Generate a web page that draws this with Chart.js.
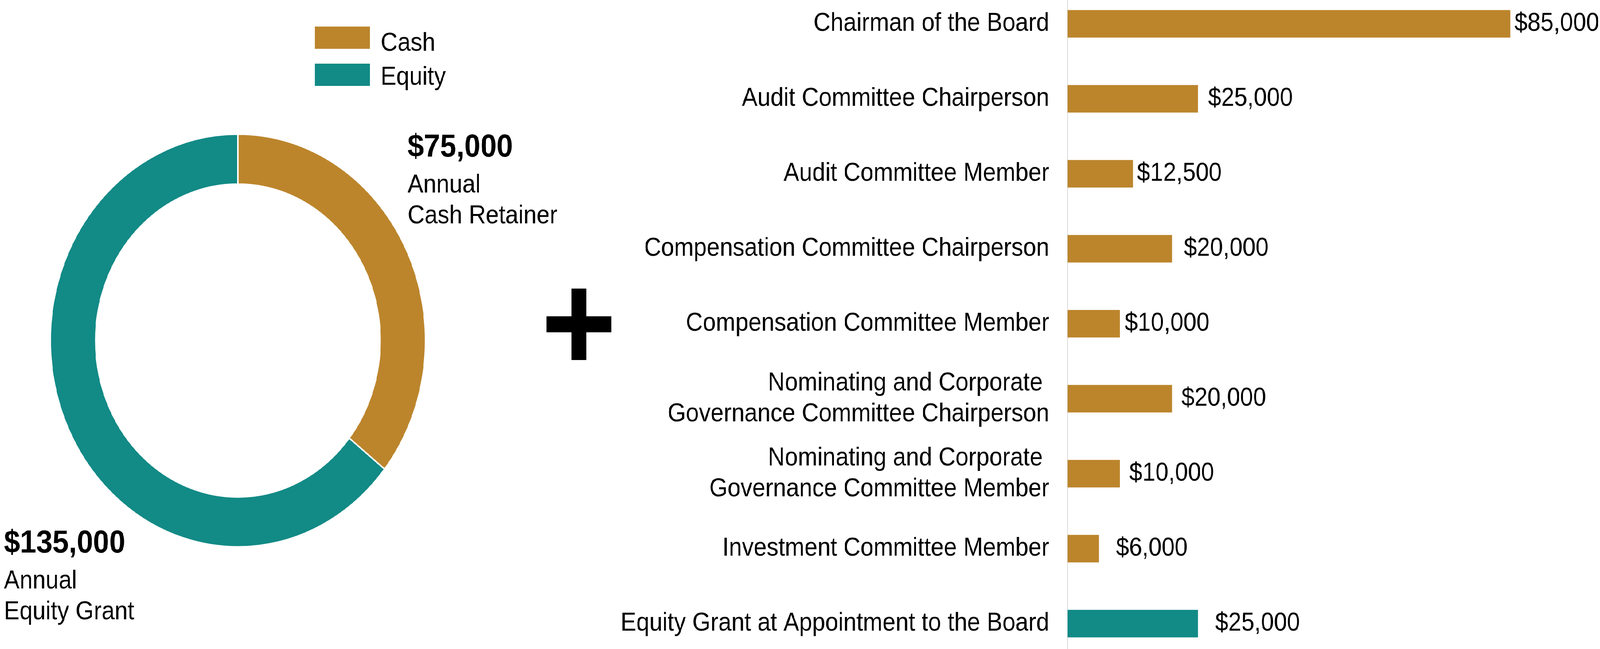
<!DOCTYPE html>
<html>
<head>
<meta charset="utf-8">
<script src="https://cdn.jsdelivr.net/npm/chart.js@4.4.1/dist/chart.umd.min.js"></script>
<style>
  html, body { margin: 0; padding: 0; background: #ffffff; overflow: hidden; }
  #stage { position: absolute; left: 0; top: 0; width: 4506px; height: 1662px; overflow: hidden; transform-origin: 0 0; background: #ffffff; }
  #donut { position: absolute; left: 0; top: 0; }
  #bars { position: absolute; left: 1500px; top: -35px; }
  .plus { position: absolute; background: #000; }
</style>
</head>
<body>
<div id="stage">
  <canvas id="donut" width="1700" height="1662"></canvas>
  <canvas id="bars" width="3006" height="1728"></canvas>
  <div class="plus" style="left:1609px; top:739px; width:42px; height:183px;"></div>
  <div class="plus" style="left:1539px; top:810px; width:183px; height:41px;"></div>
</div>
<script>
// fit the 4506x1662 design into whatever window the page gets
(function () {
  const sx = window.innerWidth / 4506, sy = window.innerHeight / 1662;
  if (Math.abs(sx - 1) > 0.001 || Math.abs(sy - 1) > 0.001) {
    document.getElementById("stage").style.transform = "scale(" + sx + "," + sy + ")";
  }
})();

// ---------- data ----------
const donutLabels = ["Cash", "Equity"];
const donutValues = [75000, 135000];
const donutCaptions = [["Annual", "Cash Retainer"], ["Annual", "Equity Grant"]];

const barLabels = [
  "Chairman of the Board",
  "Audit Committee Chairperson",
  "Audit Committee Member",
  "Compensation Committee Chairperson",
  "Compensation Committee Member",
  ["Nominating and Corporate ", "Governance Committee Chairperson"],
  ["Nominating and Corporate ", "Governance Committee Member"],
  "Investment Committee Member",
  "Equity Grant at Appointment to the Board"
];
const barValues = [85000, 25000, 12500, 20000, 10000, 20000, 10000, 6000, 25000];
const barKinds = ["Cash", "Cash", "Cash", "Cash", "Cash", "Cash", "Cash", "Cash", "Equity"];

// ---------- styles ----------
const kindColors = { Cash: "#bc852c", Equity: "#128a86" };
const valueLabelGaps = [12, 29, 12, 34, 14, 27, 27, 48, 49];
const FONT = '"Liberation Sans", Arial, sans-serif';
const fmt = v => "$" + v.toLocaleString("en-US");

Chart.defaults.font.family = FONT;
Chart.defaults.color = "#000";

// ---------- donut ----------
const donutDecor = {
  id: "donutDecor",
  afterDraw(chart) {
    const ctx = chart.ctx;
    ctx.save();
    const legendY = [68, 163];
    const textBase = [130, 217];
    donutLabels.forEach((lab, i) => {
      ctx.fillStyle = kindColors[lab];
      ctx.fillRect(887, legendY[i], 155, 57);
      ctx.fillStyle = "#000";
      ctx.font = "66px " + FONT;
      ctx.textAlign = "left";
      ctx.textBaseline = "alphabetic";
      ctx.fillText(lab, 1072, textBase[i]);
    });
    const anchors = [{ x: 1148, y: 401 }, { x: 11, y: 1415 }];
    donutValues.forEach((v, i) => {
      const a = anchors[i];
      ctx.fillStyle = "#000";
      ctx.font = "bold 82px " + FONT;
      ctx.fillText(fmt(v), a.x, a.y);
      ctx.font = "66px " + FONT;
      donutCaptions[i].forEach((line, j) => {
        ctx.fillText(line, a.x, a.y + 92 + j * 79);
      });
    });
    ctx.restore();
  }
};

new Chart(document.getElementById("donut"), {
  type: "doughnut",
  data: {
    labels: donutLabels,
    datasets: [{
      data: donutValues,
      backgroundColor: donutLabels.map(l => kindColors[l]),
      borderColor: "#ffffff",
      borderWidth: 4,
      hoverOffset: 0
    }]
  },
  options: {
    responsive: false,
    devicePixelRatio: 1,
    animation: false,
    cutout: "75.8%",
    layout: { padding: { left: 139.5, top: 341.5, right: 499.5, bottom: 259.5 } },
    plugins: { legend: { display: false }, tooltip: { enabled: false } }
  },
  plugins: [donutDecor]
});

// ---------- bars ----------
const barValueLabels = {
  id: "barValueLabels",
  afterDatasetsDraw(chart) {
    const ctx = chart.ctx;
    const meta = chart.getDatasetMeta(0);
    ctx.save();
    ctx.fillStyle = "#000";
    ctx.font = "66px " + FONT;
    ctx.textAlign = "left";
    ctx.textBaseline = "middle";
    meta.data.forEach((el, i) => {
      ctx.fillText(fmt(barValues[i]), el.x + valueLabelGaps[i], el.y);
    });
    ctx.restore();
  }
};

new Chart(document.getElementById("bars"), {
  type: "bar",
  data: {
    labels: barLabels,
    datasets: [{
      data: barValues,
      backgroundColor: barKinds.map(k => kindColors[k]),
      borderWidth: 0,
      barThickness: 70
    }]
  },
  options: {
    indexAxis: "y",
    responsive: false,
    devicePixelRatio: 1,
    animation: false,
    layout: { padding: { left: 0, top: 0, right: 33, bottom: 0 } },
    scales: {
      x: { display: false, min: 0, max: 100000 },
      y: {
        offset: true,
        grid: { display: false, drawTicks: false },
        border: { display: true, color: "#d9d9d9", width: 2 },
        ticks: { font: { size: 66, lineHeight: 1.2 }, color: "#000", padding: 52, autoSkip: false },
        afterFit(scale) { scale.width = 1507; scale.paddingTop = 0; scale.paddingBottom = 0; }
      }
    },
    plugins: { legend: { display: false }, tooltip: { enabled: false } }
  },
  plugins: [barValueLabels]
});
</script>
</body>
</html>
